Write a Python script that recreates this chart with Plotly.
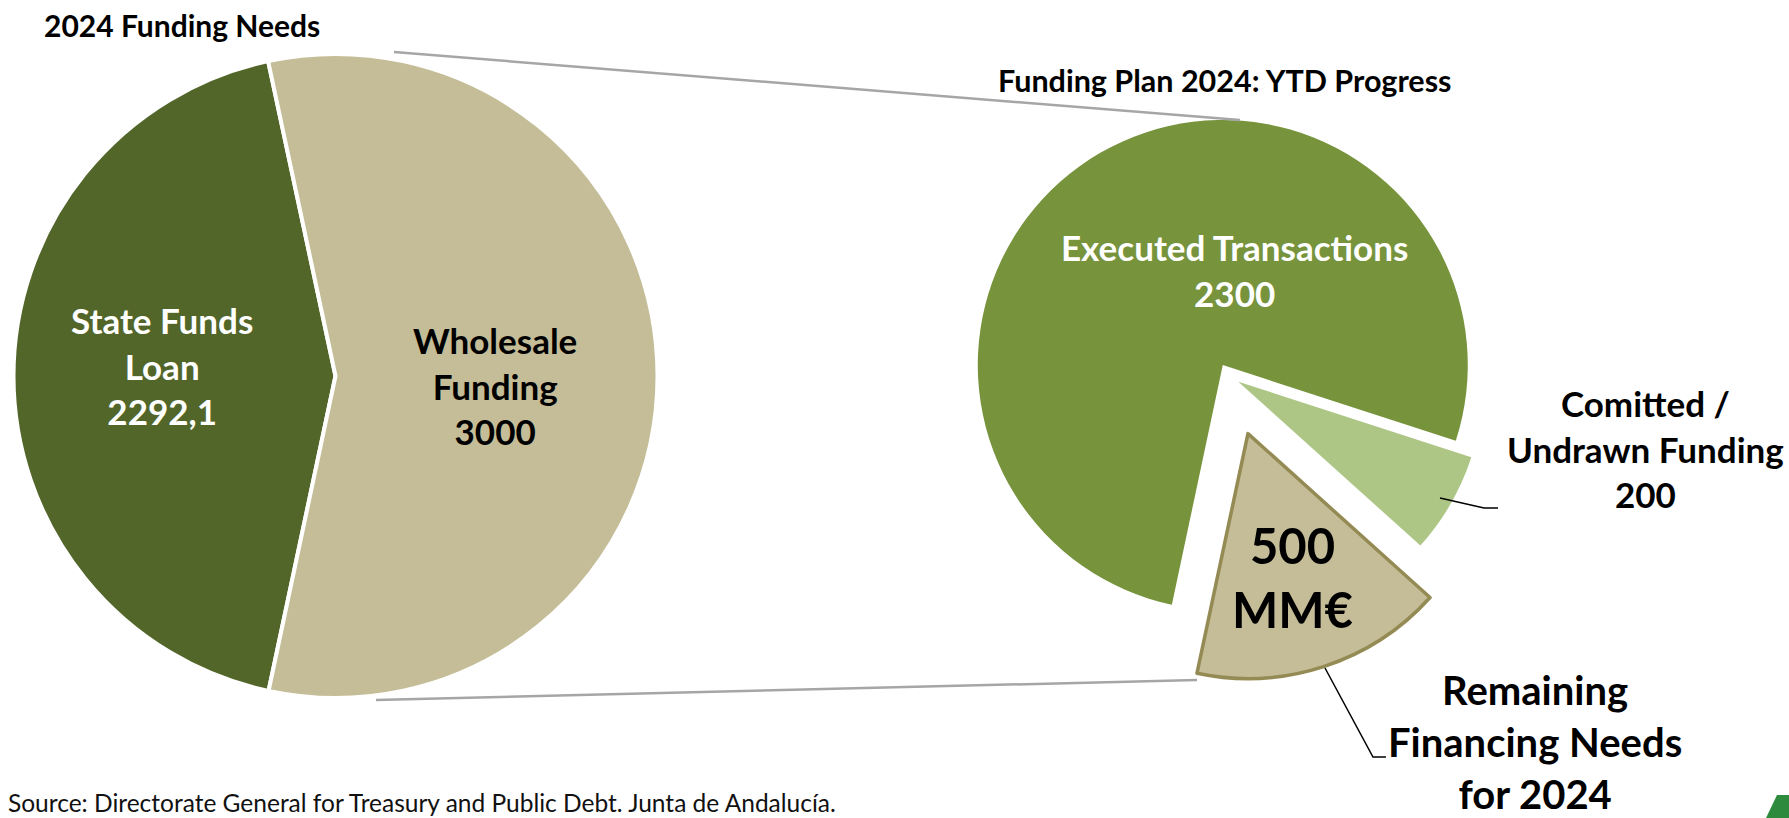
import plotly.graph_objects as go

W, H = 1789, 818

# ---------------- data ----------------
needs_labels = ["State Funds Loan", "Wholesale Funding"]
needs_values = [2292.1, 3000]
needs_colors = ["#536629", "#C4BD97"]

plan_labels = ["Executed Transactions", "Comitted / Undrawn Funding", "Remaining Financing Needs for 2024"]
plan_values = [2300, 200, 500]
plan_colors = ["#77933C", "#ADC686", "#C4BD97"]
plan_pull = [0.054, 0.042, 0.245]

title_left = "2024 Funding Needs"
title_right = "Funding Plan 2024: YTD Progress"
source_text = "Source: Directorate General for Treasury and Public Debt. Junta de Andalucía."
remaining_unit = "MM€"

FONT = "Lato"


def fmt(v):
    if float(v).is_integer():
        return str(int(v))
    return str(v).replace(".", ",")


def px(x, y):
    return x / W, 1 - y / H


def dom(cx, cy, half):
    return dict(x=[(cx - half) / W, (cx + half) / W],
                y=[1 - (cy + half) / H, 1 - (cy - half) / H])


fig = go.Figure()

# left pie: r = 322, centre (335.5, 376)
fig.add_trace(go.Pie(
    labels=needs_labels, values=needs_values, sort=False,
    direction="clockwise", rotation=-168,
    marker=dict(colors=needs_colors, line=dict(color="white", width=4)),
    textinfo="none", hoverinfo="label+value", showlegend=False,
    domain=dom(335.5, 376, 322),
))

# right pie: r = 245, pulled, centre (1229.4, 376.5)
maxpull = max(plan_pull)
fig.add_trace(go.Pie(
    labels=plan_labels, values=plan_values, sort=False,
    direction="clockwise", rotation=-168, pull=plan_pull,
    marker=dict(colors=plan_colors,
                line=dict(color=["rgba(0,0,0,0)", "rgba(0,0,0,0)", "#948A54"],
                          width=[0, 0, 3.5])),
    textinfo="none", hoverinfo="label+value", showlegend=False,
    domain=dom(1229.4, 376.5, 245 * (1 + maxpull)),
))

shapes = []


def line(pts, color, width):
    d = "M " + " L ".join(f"{x/W:.6f},{1-y/H:.6f}" for x, y in pts)
    shapes.append(dict(type="path", path=d, xref="paper", yref="paper",
                       line=dict(color=color, width=width), layer="above"))


# zoom connector lines
line([(394, 52), (1240, 120)], "#A6A6A6", 2.5)
line([(376, 700), (1197, 680)], "#A6A6A6", 2.5)
# leader lines
line([(1440, 498), (1484, 508), (1498, 508)], "black", 1.5)
line([(1325, 668), (1373, 757), (1386, 757)], "black", 1.5)

# logo corner
shapes.append(dict(type="path",
                   path=f"M {1766/W},{1-818/H} L {1777/W},{1-795/H} L {1789/W},{1-795/H} L {1789/W},{0} Z",
                   xref="paper", yref="paper", fillcolor="#2E8B3E", line=dict(width=0)))

ann = []


def text(x, y, t, size, color="black", bold=True, xanchor="center"):
    xx, yy = px(x, y)
    ann.append(dict(x=xx, y=yy, xref="paper", yref="paper", text=(f"<b>{t}</b>" if bold else t),
                    showarrow=False, xanchor=xanchor, yanchor="middle", align="center",
                    font=dict(family=FONT, size=size, color=color)))


text(42, 25, title_left, 30, xanchor="left")
text(996, 80, title_right, 30.5, xanchor="left")

text(162, 365, "State Funds<br>Loan<br>" + fmt(needs_values[0]), 35, "white")
text(495, 385, "Wholesale<br>Funding<br>" + fmt(needs_values[1]), 35)
text(1234, 270, plan_labels[0] + "<br>" + fmt(plan_values[0]), 35, "white")
text(1645, 448, "Comitted /<br>Undrawn Funding<br>" + fmt(plan_values[1]), 35)
text(1292, 577, fmt(plan_values[2]) + "<br>" + remaining_unit, 49)
text(1535, 742, "Remaining<br>Financing Needs<br>for 2024", 40)
text(6, 802, source_text, 24.5, "#111111", bold=False, xanchor="left")

fig.update_layout(width=W, height=H, margin=dict(l=0, r=0, t=0, b=0),
                  paper_bgcolor="white", plot_bgcolor="white",
                  shapes=shapes, annotations=ann)

fig.write_html("out.html", config={"displayModeBar": False},
               post_script="document.body.style.margin='0';document.body.style.overflow='hidden';")
